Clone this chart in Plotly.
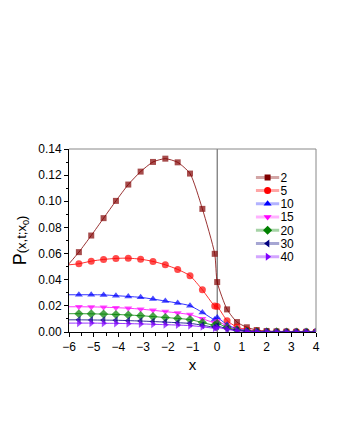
import plotly.graph_objects as go

x = [-6.0, -5.6, -5.1, -4.6, -4.1, -3.6, -3.1, -2.6, -2.1, -1.6, -1.1, -0.6, -0.1,
     0.0, 0.4, 0.8, 1.2, 1.6, 2.0, 2.4, 2.8, 3.2, 3.6, 4.0]

p_t2 = [0.0522, 0.0611, 0.0738, 0.0871, 0.1003, 0.1128, 0.1227, 0.1301, 0.1326, 0.1298,
        0.1212, 0.0942, 0.0598, 0.0382, 0.0173, 0.0076, 0.0036, 0.0015, 0.0007, 0.0004,
        0.0002, 0.0001, 0.0001, 0.0000]
p_t5 = [0.0514, 0.0522, 0.0542, 0.0555, 0.0563, 0.0565, 0.0557, 0.0540, 0.0514, 0.0479,
        0.0430, 0.0323, 0.0199, 0.0196, 0.0087, 0.0038, 0.0018, 0.0008, 0.0004, 0.0002,
        0.0001, 0.0001, 0.0000, 0.0000]
p_t10 = [0.0285, 0.0285, 0.0285, 0.0284, 0.0278, 0.0272, 0.0265, 0.0252, 0.0237, 0.0221,
         0.0201, 0.0150, 0.0095, 0.0110, 0.0055, 0.0025, 0.0012, 0.0005, 0.0003, 0.0001,
         0.0001, 0.0000, 0.0000, 0.0000]
p_t15 = [0.0193, 0.0193, 0.0192, 0.0190, 0.0186, 0.0182, 0.0175, 0.0166, 0.0156, 0.0146,
         0.0133, 0.0102, 0.0072, 0.0085, 0.0045, 0.0020, 0.0010, 0.0004, 0.0002, 0.0001,
         0.0000, 0.0000, 0.0000, 0.0000]
p_t20 = [0.0140, 0.0140, 0.0139, 0.0137, 0.0134, 0.0130, 0.0125, 0.0118, 0.0111, 0.0104,
         0.0095, 0.0073, 0.0052, 0.0065, 0.0035, 0.0016, 0.0008, 0.0003, 0.0001, 0.0001,
         0.0000, 0.0000, 0.0000, 0.0000]
p_t30 = [0.0093, 0.0093, 0.0092, 0.0091, 0.0090, 0.0087, 0.0084, 0.0080, 0.0076, 0.0071,
         0.0066, 0.0052, 0.0037, 0.0045, 0.0025, 0.0012, 0.0006, 0.0002, 0.0001, 0.0000,
         0.0000, 0.0000, 0.0000, 0.0000]
p_t40 = [0.0068, 0.0068, 0.0068, 0.0067, 0.0066, 0.0064, 0.0062, 0.0059, 0.0056, 0.0053,
         0.0049, 0.0040, 0.0029, 0.0035, 0.0020, 0.0010, 0.0005, 0.0002, 0.0001, 0.0000,
         0.0000, 0.0000, 0.0000, 0.0000]

names = ["2", "5", "10", "15", "20", "30", "40"]
values = [p_t2, p_t5, p_t10, p_t15, p_t20, p_t30, p_t40]

colors = ["#800000", "#ff0000", "#0000ff", "#ff00ff", "#008000", "#000080", "#8000ff"]
faded = ["rgba(128,0,0,0.35)", "rgba(255,0,0,0.35)", "rgba(0,0,255,0.3)",
         "rgba(255,0,255,0.3)", "rgba(0,128,0,0.35)", "rgba(0,0,128,0.35)",
         "rgba(128,0,255,0.35)"]
symbols = ["square", "circle", "triangle-up", "triangle-down", "diamond",
           "triangle-left", "triangle-right"]
msizes = [6, 7, 7, 7, 7, 7, 7]

FONT = "Liberation Sans, Arial, sans-serif"

fig = go.Figure()

for name, ys, color, light, symbol, ms in zip(names, values, colors, faded, symbols, msizes):
    sizes = [0] + [ms] * (len(x) - 1)
    fig.add_trace(go.Scatter(
        x=x, y=ys, mode="lines+markers", name=name, showlegend=False,
        line=dict(color=color, width=0.8, shape="spline", smoothing=0.6),
        marker=dict(symbol=symbol, size=sizes, color=color, line=dict(width=0)),
    ))
    # legend sample on a small inset axis, labels come from its category ticks
    fig.add_trace(go.Scatter(
        x=[0, 1], y=[name, name], mode="lines", showlegend=False, hoverinfo="skip",
        line=dict(color=light, width=3), xaxis="x2", yaxis="y2",
    ))
    fig.add_trace(go.Scatter(
        x=[0.5], y=[name], mode="markers", showlegend=False, hoverinfo="skip",
        marker=dict(symbol=symbol, size=ms, color=color, line=dict(width=0)),
        xaxis="x2", yaxis="y2",
    ))

# vertical line at x = 0, and grey top/right frame
fig.add_shape(type="line", xref="x", yref="paper", x0=0, x1=0, y0=0, y1=1,
              line=dict(color="#555555", width=1), layer="below")
fig.add_shape(type="line", xref="paper", yref="paper", x0=0, x1=1, y0=1, y1=1,
              line=dict(color="#888888", width=1))
fig.add_shape(type="line", xref="paper", yref="paper", x0=1, x1=1, y0=0, y1=1,
              line=dict(color="#888888", width=1))

axis_common = dict(
    showline=True, linecolor="#000000", linewidth=1,
    ticks="outside", tickcolor="#000000", ticklen=4, showgrid=False, zeroline=False,
    tickfont=dict(family=FONT, size=12, color="#000000"),
)

fig.update_xaxes(
    range=[-6, 4], dtick=1, tick0=-6,
    minor=dict(ticks="outside", dtick=0.5, ticklen=3, tickcolor="#000000"),
    title=dict(text="x", font=dict(family=FONT, size=15), standoff=6),
    **axis_common,
)
fig.update_yaxes(
    range=[0, 0.14], dtick=0.02, tickformat=".2f",
    minor=dict(ticks="outside", dtick=0.01, ticklen=2, tickcolor="#000000"),
    title=dict(text="P<span style='font-size:13px'>(x,t;x<sub>0</sub>)</span>",
               font=dict(family=FONT, size=18), standoff=6),
    **axis_common,
)

fig.update_layout(
    width=340, height=440,
    margin=dict(l=58, r=32, t=141, b=116),
    paper_bgcolor="white", plot_bgcolor="white",
    font=dict(family=FONT, color="#000000"),
    showlegend=False,
    xaxis2=dict(domain=[0.756, 0.852], range=[0, 1], anchor="y2", visible=False,
                fixedrange=True),
    yaxis2=dict(domain=[0.375, 0.881], anchor="x2", side="right",
                type="category", categoryorder="array", categoryarray=names,
                tickmode="array", tickvals=names, ticktext=names,
                range=[6.5, -0.5], showline=False, showgrid=False, zeroline=False,
                ticks="", tickfont=dict(family=FONT, size=12, color="#000000"),
                fixedrange=True),
)

fig.write_html("out.html")
